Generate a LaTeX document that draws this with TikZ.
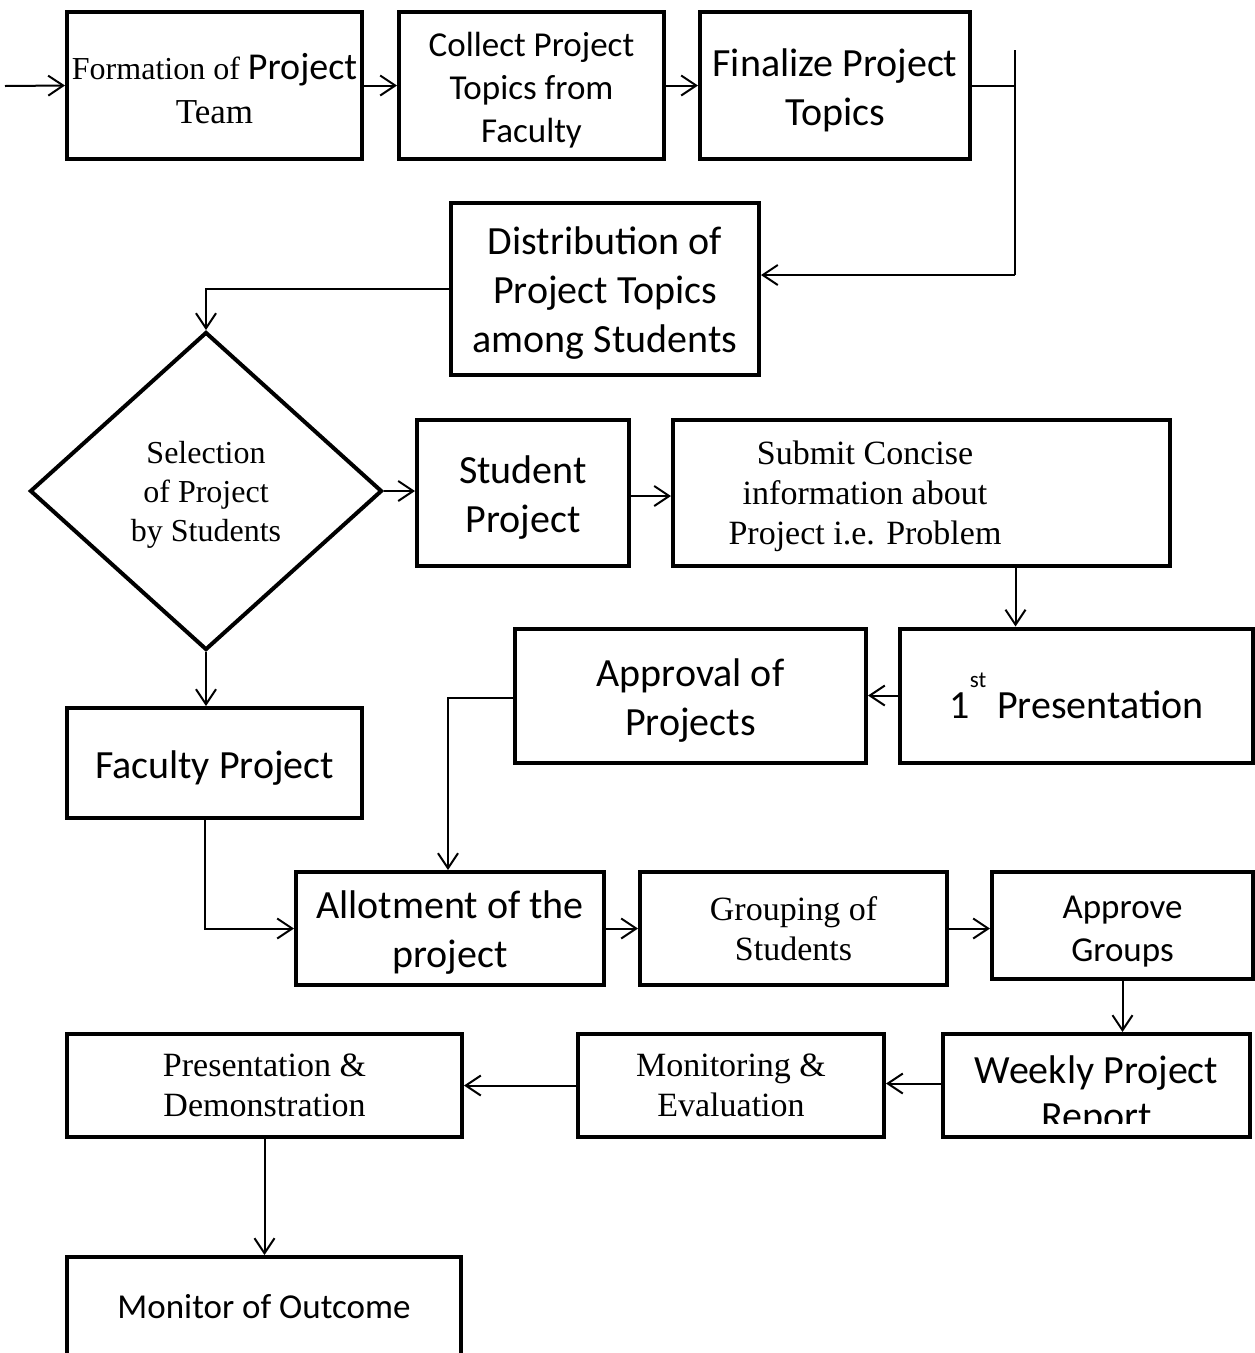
\documentclass[tikz,border=0pt]{standalone}
\usepackage{fontspec}
\setmainfont{Liberation Serif}
\newfontfamily\calfont{Carlito}
\usetikzlibrary{arrows.meta,shapes.geometric,calc}

\tikzset{
  box/.style={draw, line width=4pt, rectangle, inner sep=0pt},
  decision/.style={draw, line width=4pt, diamond, inner sep=0pt},
  flow/.style={line width=2pt, -{Straight Barb[length=15pt,width=20pt]}},
  link/.style={line width=2pt},
  txt/.style={align=center, inner sep=0pt},
  sansL/.style={txt, font=\calfont\fontsize{40}{49}\selectfont},
  sansM/.style={txt, font=\calfont\fontsize{35}{43}\selectfont},
  serifM/.style={txt, font=\fontsize{34}{40}\selectfont},
  serifS/.style={txt, font=\fontsize{32}{39}\selectfont},
  lower/.style={yshift=-#1},
}

\begin{document}
\begin{tikzpicture}[x=1pt, y=-1pt]
  \clip (0,0) rectangle (1255,1353);
  \fill[white] (0,0) rectangle (1255,1353);

  % ---- boxes ----
  \coordinate (entry) at (5,86);
  \node[box, minimum width=295, minimum height=147] (form) at (214.5,85.5) {};
  \node[box, minimum width=265, minimum height=147] (coll) at (531.5,85.5) {};
  \node[box, minimum width=270, minimum height=147] (fin)  at (835,85.5) {};
  \node[box, minimum width=308, minimum height=172] (dist) at (605,289) {};
  \coordinate (bustop) at (1015,50);
  \coordinate (busbot) at (1015,275);
  \node[decision, minimum width=352, minimum height=318, aspect=1.107] (sel) at (206,491) {};
  \node[box, minimum width=212, minimum height=146] (sp)    at (523,493) {};
  \node[box, minimum width=497, minimum height=146] (sub)   at (921.5,493) {};
  \node[box, minimum width=353, minimum height=134] (pres)  at (1076.5,695.5) {};
  \node[box, minimum width=351, minimum height=134] (appr)  at (690.5,696) {};
  \node[box, minimum width=295, minimum height=110] (fac)   at (214.5,763) {};
  \node[box, minimum width=308, minimum height=113] (allot) at (450,928.5) {};
  \node[box, minimum width=307, minimum height=113] (grp)   at (793.5,928.5) {};
  \node[box, minimum width=261, minimum height=107] (ag)    at (1122.5,925.5) {};
  \node[box, minimum width=307, minimum height=103] (wk)    at (1096.5,1085.5) {};
  \node[box, minimum width=306, minimum height=103] (mon)   at (731,1085.5) {};
  \node[box, minimum width=395, minimum height=103] (pd)    at (264.5,1085.5) {};
  \node[box, minimum width=394, minimum height=100] (mo)    at (264,1307) {};

  % ---- texts ----
  \node[txt, font=\fontsize{32}{44}\selectfont, lower=3pt] (formT) at (form)
    {Formation of {\calfont\fontsize{38}{44}\selectfont Project}\\{\fontsize{35}{44}\selectfont Team}};
  \node[sansM, lower=5pt] (collT) at (coll) {Collect Project\\Topics from\\Faculty};
  \node[sansL, lower=4.5pt] (finT) at (fin) {Finalize Project\\Topics};
  \node[sansL, lower=4.5pt] (distT) at (dist) {Distribution of\\Project Topics\\among Students};
  \node[serifS, lower=4pt] (selT) at (sel) {Selection\\of Project\\by Students};
  \node[sansL, lower=4.5pt] (spT) at (sp) {Student\\Project};
  \node[serifM] (subT) at (865,496) {Submit Concise\\information about\\Project i.e. Problem};
  \node[sansL] (presT) at (pres)
    {1\raisebox{31pt}{\fontsize{23}{23}\selectfont st}\hspace{11pt}Presentation};
  \node[sansL, lower=4.5pt] (apprT) at (appr) {Approval of\\Projects};
  \node[sansL, lower=5pt] (facT) at (fac) {Faculty Project};
  \node[sansL, lower=4.5pt] (allotT) at (allot) {Allotment of the\\project};
  \node[serifM] (grpT) at (grp) {Grouping of\\Students};
  \node[sansM, lower=6pt] (agT) at (ag) {Approve\\Groups};
  \begin{scope}
    \clip (945,1036) rectangle (1248,1123);
    \node[txt, font=\calfont\fontsize{40}{46}\selectfont]
      (wkT) at (1096.5,1096) {Weekly Project\\Report};
  \end{scope}
  \node[serifM] (monT) at (mon) {Monitoring \&\\Evaluation};
  \node[serifM] (pdT) at (pd) {Presentation \&\\Demonstration};
  \node[sansM] (moT) at (mo) {Monitor of Outcome};

  % ---- connectors ----
  \draw[flow] (entry) -- (form.west);
  \draw[flow] (form.east) -- (coll.west);
  \draw[flow] (coll.east) -- (fin.west);
  \draw[link] (fin.east) -- (fin.east -| bustop);
  \draw[link] (bustop) -- (busbot);
  \draw[flow] (busbot) -- (busbot -| dist.east);
  \draw[flow] (dist.west) -| (sel.north);
  \draw[flow] (sel.east) -- (sel.east -| sp.west);
  \draw[flow] (sel.south) -- (sel.south |- fac.north);
  \draw[flow] ([yshift=-3pt]sp.east) -- ([yshift=-3pt]sp.east -| sub.west);
  \draw[flow] ([xshift=94pt]sub.south) -- ([xshift=94pt]sub.south |- pres.north);
  \draw[flow] (pres.west) -- (pres.west -| appr.east);
  \draw[flow] ([yshift=-2pt]appr.west) -| ([xshift=-2pt]allot.north);
  \draw[flow] ([xshift=-10pt]fac.south) |- (allot.west);
  \draw[flow] (allot.east) -- (grp.west);
  \draw[flow] (grp.east) -- (grp.east -| ag.west);
  \draw[flow] (ag.south) -- (ag.south |- wk.north);
  \draw[flow] ([yshift=2pt]wk.west) -- ([yshift=2pt]wk.west -| mon.east);
  \draw[flow] (mon.west) -- (pd.east);
  \draw[flow] (pd.south) -- (pd.south |- mo.north);
\end{tikzpicture}
\end{document}
